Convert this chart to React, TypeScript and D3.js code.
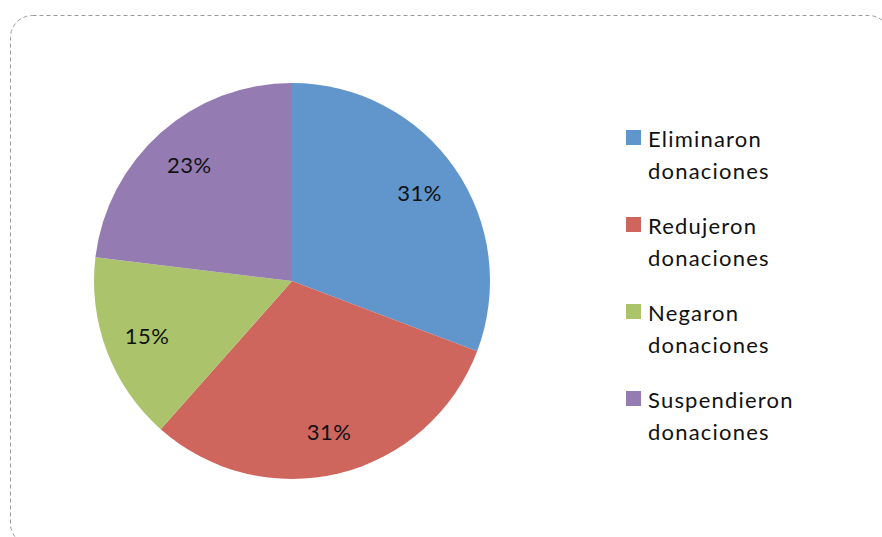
import React from "react";
import * as d3 from "d3";

// Survey responses (counts) and their categories
const categories = ["Eliminaron donaciones", "Redujeron donaciones", "Negaron donaciones", "Suspendieron donaciones"];
const legendLines = [
  ["Eliminaron", "donaciones"],
  ["Redujeron", "donaciones"],
  ["Negaron", "donaciones"],
  ["Suspendieron", "donaciones"],
];
const counts = [4, 4, 2, 3];
const colors = ["#6096CB", "#CF665E", "#ABC46B", "#947BB1"];

const W = 882;
const H = 537;
const cx = 292;
const cy = 281;
const radius = 198;
const labelRadius = 155;
const FONT = "Lato, 'Open Sans', sans-serif";

export default function App() {
  const total = d3.sum(counts);
  const pie = d3.pie<number>().sort(null).value((d) => d);
  const arcs = pie(counts);
  const arc = d3.arc<d3.PieArcDatum<number>>().innerRadius(0).outerRadius(radius);
  const labelArc = d3.arc<d3.PieArcDatum<number>>().innerRadius(labelRadius).outerRadius(labelRadius);
  const pct = d3.format(".0%");

  const legendX = 626;
  const legendY0 = 130;
  const legendStep = 87;

  return (
    <svg
      width={W}
      height={H}
      style={{ position: "absolute", left: 0, top: 0, background: "#fff" }}
      fontFamily={FONT}
    >
      <rect
        x={10.5}
        y={15.5}
        width={880}
        height={530}
        rx={22}
        ry={22}
        fill="none"
        stroke="#9a9a9a"
        strokeWidth={1}
        strokeDasharray="4,3"
      />
      <g transform={`translate(${cx},${cy})`}>
        {arcs.map((a, i) => (
          <path key={categories[i]} d={arc(a) || ""} fill={colors[i]} />
        ))}
        {arcs.map((a, i) => {
          const [x, y] = labelArc.centroid(a);
          return (
            <text
              key={"l" + i}
              x={x}
              y={y}
              textAnchor="middle"
              dominantBaseline="central"
              fontSize={22}
              letterSpacing={0.5}
              fill="#111"
            >
              {pct(a.data / total)}
            </text>
          );
        })}
      </g>
      <g>
        {legendLines.map((lines, i) => {
          const y = legendY0 + i * legendStep;
          return (
            <g key={"lg" + i}>
              <rect x={legendX} y={y} width={15} height={15} fill={colors[i]} />
              <text x={648} y={y + 17} fontSize={22} letterSpacing={1.2} fill="#111">
                {lines[0]}
              </text>
              <text x={648} y={y + 49} fontSize={22} letterSpacing={1.2} fill="#111">
                {lines[1]}
              </text>
            </g>
          );
        })}
      </g>
    </svg>
  );
}
